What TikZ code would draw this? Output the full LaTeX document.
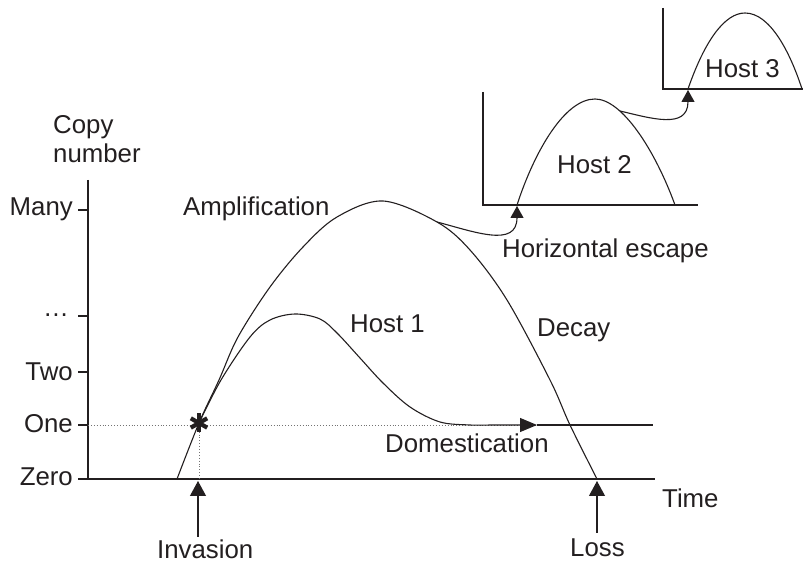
\documentclass[tikz,border=0pt]{standalone}
\usepackage{fontspec}
\setmainfont{Liberation Sans}
\usetikzlibrary{arrows.meta}
\definecolor{ink}{HTML}{231F20}
\begin{document}
\begin{tikzpicture}[x=1pt,y=-1pt,
  lbl/.style={anchor=base west, inner sep=0pt, font=\fontsize{25.8}{28}\selectfont, text=ink},
  rlbl/.style={lbl, anchor=base east},
  axis/.style={line width=1.25pt, draw=ink},
  curve/.style={line width=1.1pt, draw=ink},
  bigtip/.style={curve, -{Triangle[length=15pt,width=16pt]}},
  domtip/.style={curve, -{Triangle[length=17pt,width=14pt]}},
  smalltip/.style={curve, -{Triangle[length=12pt,width=13pt]}},
  guide/.style={dotted, line width=0.9pt, draw=black!55},
  arm/.style={line width=4.2pt, draw=ink},
]
\useasboundingbox (0,0) rectangle (807,569);

% ---------- main axes ----------
\coordinate (ytop) at (88,180);
\coordinate (O) at (88,479);
\coordinate (xend) at (655,479);
\draw[axis] (ytop) -- (O) -- (xend);
\foreach \yy in {210,316,372,425,479}
  \draw[axis] (78,\yy) -- (88,\yy);

% axis labels
\node[lbl] (copy) at (53,134) {Copy};
\node[lbl] (number) at (53,163) {number};
\node[rlbl] (many) at (73,216) {Many};
\node[rlbl] (dots) at (69,317) {…};
\node[rlbl] (two) at (73,381) {Two};
\node[rlbl] (one) at (73,433) {One};
\node[rlbl] (zero) at (73,486) {Zero};
\node[lbl] (time) at (662,508) {Time};

% ---------- guides ----------
\coordinate (star) at (199,423);
\coordinate (onestart) at (88,425);
\coordinate (dom) at (537,425);
\coordinate (domend) at (653,425);
\draw[guide] (onestart) -- (dom);
\draw[guide] (star) -- (199,479);

% ---------- big curve (amplification / decay) ----------
\draw[curve] plot[smooth, tension=0.55] coordinates {(177,479) (199,423) (219,380) (238,337) (270,287) (303,247) (337,217) (383,201) (437,222) (470,250) (507,300) (550,380) (570,425) (597,479)};

% ---------- host 1 curve (domestication) ----------
\draw[domtip] plot[smooth, tension=0.55] coordinates {(199,423) (221,380) (250,337) (270,320) (295,314) (320,319) (337,333) (360,358) (383,383) (410,407) (440,422) (470,425) (490,425)} -- (dom);
\draw[curve] (dom) -- (domend);

% asterisk
\draw[arm] (199,413.5) -- (199,432.5);
\draw[arm] (190.8,418.3) -- (207.2,427.7);
\draw[arm] (190.8,427.7) -- (207.2,418.3);

% ---------- host 2 ----------
\draw[axis] (483,92) -- (483,205) -- (698,205);
\coordinate (h2in) at (517,206);
\draw[curve] (517,205) .. controls (535,150) and (565,99) .. (595,99) .. controls (622,99) and (655,150) .. (675,205);
\coordinate (esc) at (437,222);
\draw[smalltip] (esc) .. controls (475,232) and (517,248) .. (h2in);

% ---------- host 3 ----------
\draw[axis] (663,8) -- (663,89) -- (803,89);
\coordinate (h3in) at (688,90);
\draw[curve] (688,89) .. controls (705,40) and (725,13) .. (745,13) .. controls (770,13) and (790,52) .. (802,89);
\coordinate (esc2) at (620,111);
\draw[smalltip] (esc2) .. controls (650,118) and (688,130) .. (h3in);

% ---------- event arrows ----------
\coordinate (invtail) at (198,537);
\coordinate (invtip) at (198,481);
\draw[bigtip] (invtail) -- (invtip);
\coordinate (losstail) at (597,533);
\coordinate (losstip) at (597,481);
\draw[bigtip] (losstail) -- (losstip);

% ---------- labels ----------
\node[lbl] (ampl) at (183,216) {Amplification};
\node[lbl] (host1) at (350,333) {Host 1};
\node[lbl] (decay) at (537,337) {Decay};
\node[lbl] (domest) at (385,453) {Domestication};
\node[lbl] (horiz) at (502,258) {Horizontal escape};
\node[lbl] (host2) at (557,174) {Host 2};
\node[lbl] (host3) at (705,78) {Host 3};
\node[lbl] (invasion) at (157,559) {Invasion};
\node[lbl] (loss) at (570,557) {Loss};
\end{tikzpicture}
\end{document}
